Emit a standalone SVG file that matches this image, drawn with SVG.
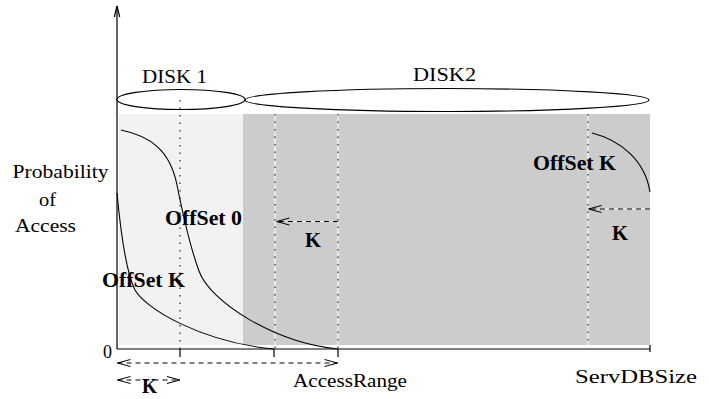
<svg xmlns="http://www.w3.org/2000/svg" width="709" height="399" viewBox="0 0 709 399">
<style>
.txt{font-family:"Liberation Serif","Times New Roman",serif;font-size:19px;fill:#000}
.bold{font-family:"Liberation Serif","Times New Roman",serif;font-size:21px;font-weight:bold;fill:#000}
.ax{stroke:#000;stroke-width:1.2;fill:none}
.curve{stroke:#000;stroke-width:1.1;fill:none}
.dotbase{stroke:#fff;stroke-width:1;fill:none}
.dots{stroke:#000;stroke-width:1;stroke-dasharray:1.5 6;fill:none}
.dash{stroke:#000;stroke-width:1;stroke-dasharray:5 4;fill:none}
.ell{stroke:#000;stroke-width:1.2;fill:none}
</style>
<defs>
<marker id="ah" viewBox="-1 -5 15 10" refX="13" refY="0" markerWidth="15" markerHeight="10" markerUnits="userSpaceOnUse" orient="auto-start-reverse">
<path d="M0,-3.5 L13,0 L0,3.5" fill="none" stroke="#000" stroke-width="1"/>
</marker>
</defs>
<g id="regions">
<rect x="118.5" y="114" width="124.5" height="231" fill="#f2f2f2"/>
<rect x="243" y="114" width="407" height="231" fill="#cccccc"/>
</g>
<g id="disk1">
<ellipse class="ell" cx="181" cy="99.5" rx="64" ry="10"/>
<text class="txt" x="142" y="83" textLength="65" lengthAdjust="spacingAndGlyphs">DISK 1</text>
</g>
<g id="disk2">
<ellipse class="ell" cx="447" cy="100" rx="202" ry="11.5"/>
<text class="txt" x="413" y="81" textLength="63" lengthAdjust="spacingAndGlyphs">DISK2</text>
</g>
<g id="axes">
<line class="ax" x1="117" y1="6" x2="117" y2="349"/>
<polyline class="ax" points="114.3,17 117,6 119.7,17"/>
<line class="ax" x1="117" y1="349" x2="650" y2="349"/>
<line class="ax" x1="650" y1="345" x2="650" y2="352"/>
<line class="ax" x1="180" y1="349" x2="180" y2="357"/>
<line class="ax" x1="274" y1="349" x2="274" y2="357"/>
<line class="ax" x1="338" y1="349" x2="338" y2="357"/>
</g>
<g id="guides">
<line class="dots" x1="180" y1="100" x2="180" y2="349"/>
<line class="dotbase" x1="275" y1="114" x2="275" y2="345"/>
<line class="dots" x1="275" y1="114" x2="275" y2="349"/>
<line class="dotbase" x1="338" y1="114" x2="338" y2="345"/>
<line class="dots" x1="338" y1="114" x2="338" y2="349"/>
<line class="dotbase" x1="588" y1="114" x2="588" y2="345"/>
<line class="dots" x1="588" y1="114" x2="588" y2="345"/>
</g>
<g id="curves">
<path class="curve" d="M121,130 C150,136 170,150 177,185 C181,205 189,244 199,271 C210,302 275,343 338,349"/>
<path class="curve" d="M117,193 C120,225 125,270 135,290 C145,308 200,342 274,349"/>
<path class="curve" d="M592,133 C620,140 645,160 650,192"/>
</g>
<g id="connectors">
<line class="dotbase" x1="290" y1="221.5" x2="338" y2="221.5"/>
<line class="dash" x1="338" y1="221.5" x2="276.5" y2="221.5" marker-end="url(#ah)"/>
<line class="dotbase" x1="601" y1="209" x2="650" y2="209"/>
<line class="dash" x1="650" y1="209" x2="588.5" y2="209" marker-end="url(#ah)"/>
<line class="dash" x1="117.5" y1="363" x2="337.5" y2="363" marker-start="url(#ah)" marker-end="url(#ah)"/>
<line class="dash" x1="117.5" y1="380" x2="180" y2="380" marker-start="url(#ah)" marker-end="url(#ah)"/>
</g>
<g id="labels">
<text class="txt" x="12.5" y="178" textLength="96" lengthAdjust="spacingAndGlyphs">Probability</text>
<text class="txt" x="39" y="206" textLength="17" lengthAdjust="spacingAndGlyphs">of</text>
<text class="txt" x="15" y="232" textLength="61" lengthAdjust="spacingAndGlyphs">Access</text>
<text class="txt" x="103" y="358" textLength="9" lengthAdjust="spacingAndGlyphs">0</text>
<text class="txt" x="293" y="387" textLength="114" lengthAdjust="spacingAndGlyphs">AccessRange</text>
<text class="txt" x="575" y="383" textLength="122" lengthAdjust="spacingAndGlyphs">ServDBSize</text>
<text class="bold" x="165" y="225" textLength="77" lengthAdjust="spacingAndGlyphs">OffSet 0</text>
<text class="bold" x="102" y="287" textLength="83" lengthAdjust="spacingAndGlyphs">OffSet K</text>
<text class="bold" x="533" y="170" textLength="83" lengthAdjust="spacingAndGlyphs">OffSet K</text>
<text class="bold" x="305" y="247" textLength="16" lengthAdjust="spacingAndGlyphs">K</text>
<text class="bold" x="612" y="240" textLength="16" lengthAdjust="spacingAndGlyphs">K</text>
<text class="bold" x="142" y="393" textLength="15" lengthAdjust="spacingAndGlyphs">K</text>
</g>
</svg>
